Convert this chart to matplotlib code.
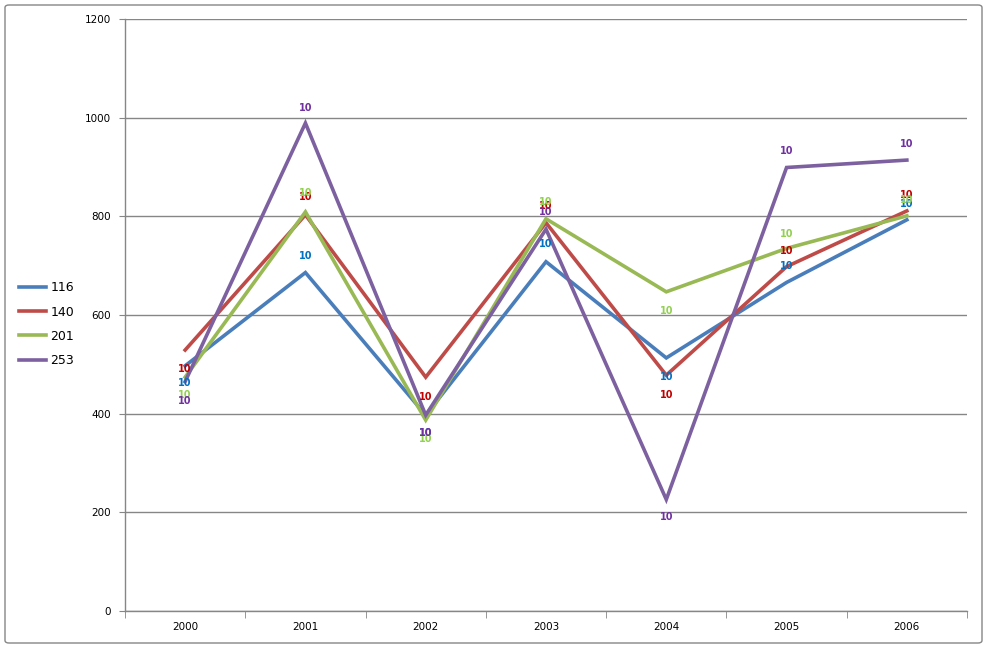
import matplotlib
matplotlib.use("Agg")
import matplotlib.pyplot as plt
from matplotlib.patches import FancyBboxPatch

years = ["2000", "2001", "2002", "2003", "2004", "2005", "2006"]
series_names = ["116", "140", "201", "253"]
v116 = [497, 686, 397, 708, 513, 666, 793]
v140 = [529, 803, 474, 787, 478, 698, 811]
v201 = [474, 809, 387, 795, 647, 735, 801]
v253 = [465, 989, 397, 774, 226, 899, 914]
label_text = "10"
lab116 = [462, 720, 360, 744, 475, 700, 824]
lab140 = [491, 839, 434, 820, 438, 730, 843]
lab201 = [438, 847, 349, 830, 608, 764, 833]
lab253 = [426, 1020, 360, 808, 191, 932, 947]
yticks = [0, 200, 400, 600, 800, 1000, 1200]

line_colors = ["#4A7EBB", "#BE4B48", "#98B954", "#7D60A0"]
label_colors = ["#0070C0", "#C00000", "#92D050", "#7030A0"]
values = [v116, v140, v201, v253]
labels = [lab116, lab140, lab201, lab253]

W, H = 987, 648
fig = plt.figure(figsize=(W / 100, H / 100), dpi=100)
fig.patch.set_facecolor("white")
fig.patches.append(FancyBboxPatch((5 / W, 5 / H), 977 / W, 638 / H,
                                  boxstyle="round,pad=0,rounding_size=0.004",
                                  transform=fig.transFigure, fill=False,
                                  edgecolor="#868686", linewidth=1))

ax = fig.add_axes([125 / W, (H - 611) / H, (967 - 125) / W, (611 - 19) / H])
x = list(range(len(years)))
handles = []
for vals, c, name in zip(values, line_colors, series_names):
    h, = ax.plot(x, vals, color=c, linewidth=2.6, solid_joinstyle="miter", label=name)
    handles.append(h)
for labs, c in zip(labels, label_colors):
    for xi, ly in zip(x, labs):
        ax.text(xi, ly, label_text, color=c, fontsize=7, fontweight="bold",
                ha="center", va="center", family="DejaVu Sans")

ax.set_xlim(-0.5, len(years) - 0.5)
ax.set_ylim(0, 1200)
ax.set_yticks(yticks)
ax.set_yticklabels([str(t) for t in yticks], fontsize=7.5, family="DejaVu Sans")
ax.set_xticks(x)
ax.set_xticklabels(years, fontsize=7.5, family="DejaVu Sans")
ax.set_xticks([i - 0.5 for i in range(len(years) + 1)], minor=True)
ax.tick_params(axis="x", which="major", length=0, pad=8)
ax.tick_params(axis="x", which="minor", length=5, color="#868686", direction="out")
ax.tick_params(axis="y", length=4, color="#868686", direction="out", pad=6)
ax.grid(axis="y", color="#868686", linewidth=1)
ax.set_axisbelow(True)
for s in ["top", "right"]:
    ax.spines[s].set_visible(False)
for s in ["left", "bottom"]:
    ax.spines[s].set_color("#868686")
    ax.spines[s].set_linewidth(1)

fig.legend(handles=handles, labels=series_names, loc="upper left",
           bbox_to_anchor=(8 / W, 1 - 270 / H), frameon=False,
           fontsize=9, handlelength=2.1, handletextpad=0.4, labelspacing=0.9)

fig.savefig("out.png", dpi=100)
